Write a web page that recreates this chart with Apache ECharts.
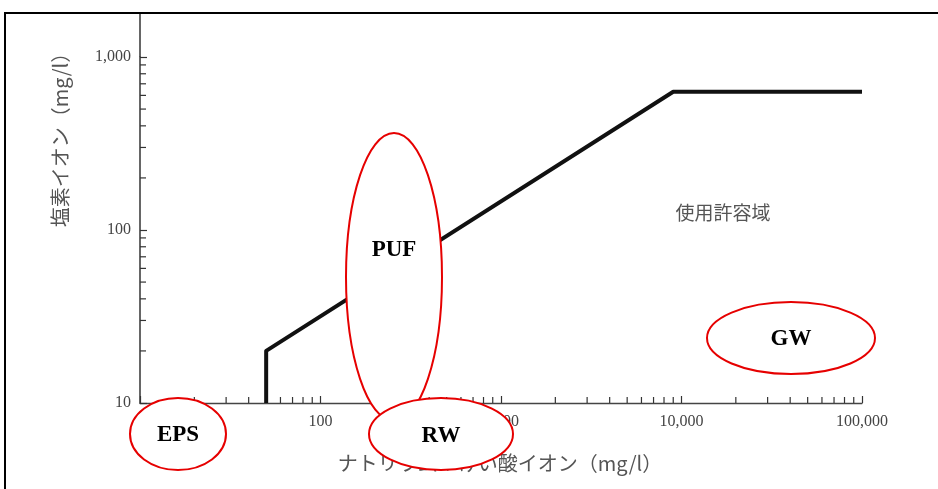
<!DOCTYPE html>
<html><head><meta charset="utf-8">
<script src="https://cdn.jsdelivr.net/npm/echarts@6/dist/echarts.min.js"></script>
<style>html,body{margin:0;padding:0;background:#fff}#c{width:938px;height:489px}</style>
</head><body><div id="c"></div>
<script>
// ---- data ----
const xMajorTicks = [10, 100, 1000, 10000, 100000];
const yMajorTicks = [10, 100, 1000];
const xMinorTicks = [20,30,40,50,60,70,80,90, 200,300,400,500,600,700,800,900,
                     2000,3000,4000,5000,6000,7000,8000,9000, 20000,30000,40000,50000,60000,70000,80000,90000];
const yMinorTicks = [20,30,40,50,60,70,80,90, 200,300,400,500,600,700,800,900];
const limitLine = [[50, 10], [50, 20], [9000, 630], [100000, 630]];
const regionLabel = '使用許容域';
const xAxisName = 'ナトリウム＋けい酸イオン（mg/l）';
const yAxisName = '塩素イオン（mg/l）';
const annotationNames = ['EPS', 'PUF', 'RW', 'GW'];

// ---- layout (pixels) ----
const G = {left: 140, right: 76, top: 57, bottom: 86};
const ellipses = [
  {cx: 178, cy: 434, rx: 48, ry: 36, ty: 435},
  {cx: 394, cy: 277, rx: 48, ry: 144, ty: 250},
  {cx: 441, cy: 434, rx: 72, ry: 36, ty: 436},
  {cx: 791, cy: 338, rx: 84, ry: 36, ty: 339}
];

function fmt(v){ return String(Math.round(v)).replace(/\B(?=(\d{3})+(?!\d))/g, ','); }

const chart = echarts.init(document.getElementById('c'));
const tickStyle = {stroke: '#333', lineWidth: 1.2};

const graphics = [
  {type: 'rect', z: 200, shape: {x: 5, y: 13, width: 960, height: 500},
   style: {fill: 'none', stroke: '#000', lineWidth: 2}},
  {type: 'line', z: 50, shape: {x1: G.left, y1: 13, x2: G.left, y2: G.top},
   style: {stroke: '#333', lineWidth: 1.5}},
  {type: 'text', z: 50, x: 60, y: 135, rotation: Math.PI/2,
   style: {text: yAxisName, font: '20px "Noto Sans CJK JP"', fill: '#555', align: 'center', verticalAlign: 'middle'}},
  {type: 'text', z: 50, x: 500, y: 463,
   style: {text: xAxisName, font: '20px "Noto Sans CJK JP"', fill: '#555', align: 'center', verticalAlign: 'middle'}},
  {type: 'text', z: 50, x: 723, y: 213,
   style: {text: regionLabel, font: '19px "Noto Sans CJK JP"', fill: '#555', align: 'center', verticalAlign: 'middle'}}
];
ellipses.forEach((e, i) => {
  graphics.push({type: 'ellipse', z: 100, shape: {cx: e.cx, cy: e.cy, rx: e.rx, ry: e.ry},
    style: {fill: '#fff', stroke: '#e60000', lineWidth: 2}});
  graphics.push({type: 'text', z: 101, x: e.cx, y: e.ty,
    style: {text: annotationNames[i], font: 'bold 23px "Liberation Serif"', fill: '#000', align: 'center', verticalAlign: 'middle'}});
});

chart.setOption({
  animation: false,
  grid: G,
  xAxis: {
    type: 'log', logBase: 10, min: 10, max: 100000,
    axisLine: {lineStyle: {color: '#444', width: 1.3}},
    axisTick: {inside: true, length: 7, lineStyle: {color: '#333', width: 1.2}},
    splitLine: {show: false},
    axisLabel: {margin: 11, fontFamily: 'Liberation Serif', fontSize: 16, color: '#444',
      formatter: v => (v <= 10 ? '' : fmt(v))}
  },
  yAxis: {
    type: 'log', logBase: 10, min: 10, max: 1000,
    axisLine: {lineStyle: {color: '#333', width: 1.5}},
    axisTick: {inside: true, length: 7, lineStyle: {color: '#333', width: 1.2}},
    splitLine: {show: false},
    axisLabel: {margin: 9, fontFamily: 'Liberation Serif', fontSize: 16, color: '#444',
      formatter: v => fmt(v)}
  },
  series: [
    {type: 'line', data: limitLine, symbol: 'none', z: 5,
     lineStyle: {color: '#111', width: 4, join: 'round'}},
    {type: 'custom', data: xMinorTicks.map(v => [v, 10]), z: 3, silent: true,
     renderItem: (p, api) => {
       const pt = api.coord([api.value(0), api.value(1)]);
       return {type: 'line', shape: {x1: pt[0], y1: pt[1], x2: pt[0], y2: pt[1] - 6}, style: tickStyle};
     }},
    {type: 'custom', data: yMinorTicks.map(v => [10, v]), z: 3, silent: true,
     renderItem: (p, api) => {
       const pt = api.coord([api.value(0), api.value(1)]);
       return {type: 'line', shape: {x1: pt[0], y1: pt[1], x2: pt[0] + 6, y2: pt[1]}, style: tickStyle};
     }}
  ],
  graphic: graphics
});
</script></body></html>
